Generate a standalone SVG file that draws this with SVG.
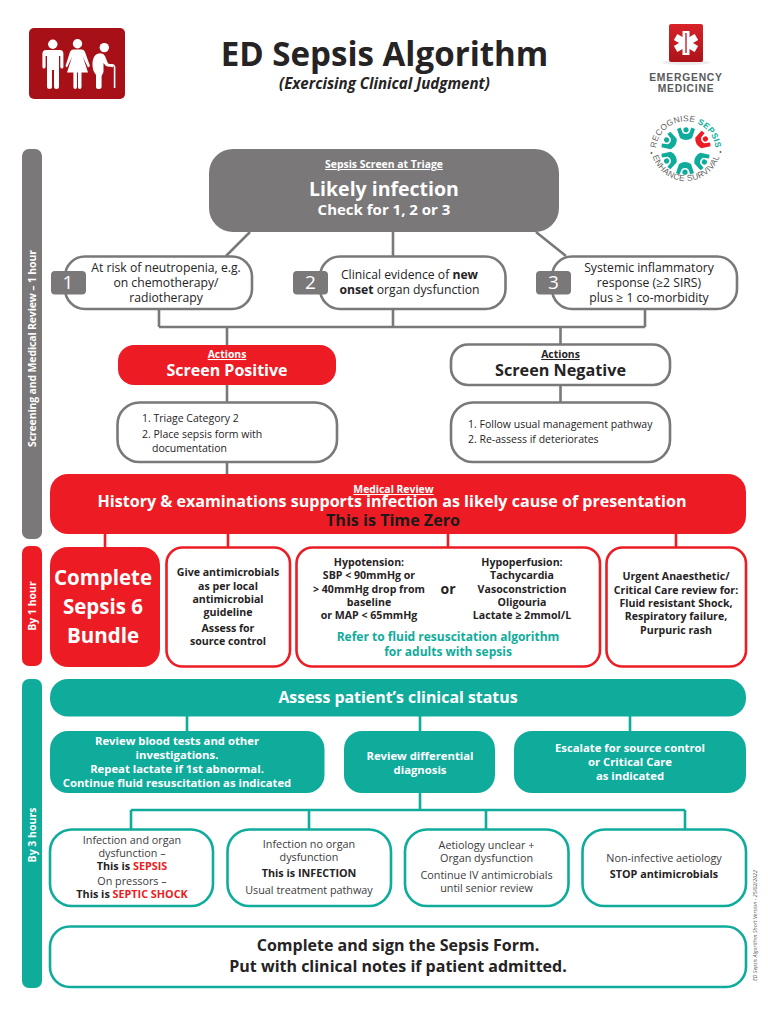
<svg xmlns="http://www.w3.org/2000/svg" width="768" height="1024" viewBox="0 0 768 1024">
<style>
text{font-family:"Open Sans","Noto Sans",sans-serif;fill:#262324}
.m{text-anchor:middle}
.b{font-weight:700}
.w{fill:#fff}
.u{text-decoration:underline}
.t12{font-size:12.2px}
.t11{font-size:10.5px}
.bb{font-size:10.6px;font-weight:700;text-anchor:middle}
.tb{font-size:11.3px;font-weight:700;text-anchor:middle;fill:#fff}
.low{font-size:10.8px;text-anchor:middle;fill:#3c3a3b}
.lowb{font-size:10.8px;font-weight:700;text-anchor:middle}
.red{fill:#ed1c24;font-weight:700}
.g{fill:#7a7879}
.gbox{fill:#fff;stroke:#7a7879;stroke-width:2.6}
.r{fill:#ed1c24}
.rbox{fill:#fff;stroke:#ed1c24;stroke-width:2.6}
.te{fill:#10ac9b}
.tbox{fill:#fff;stroke:#10ac9b;stroke-width:2.6}
.cg{fill:none;stroke:#7a7879;stroke-width:2.6}
.cr{fill:none;stroke:#ed1c24;stroke-width:2.6}
.ct{fill:none;stroke:#10ac9b;stroke-width:2.6}
.num{font-size:19px;fill:#fff;text-anchor:middle}
.lg{font-size:8.4px;font-family:"Liberation Sans",sans-serif;fill:#5f5f60;letter-spacing:.3px}
.em{font-family:"Liberation Sans",sans-serif;font-size:10.3px;font-weight:700;letter-spacing:.8px;fill:#58595b;text-anchor:middle}
</style>
<defs>
<path id="arcTop" d="M656.500,158 A30,30 0 1 1 715,158"/>
<path id="arcBot" d="M651,146 A35,35 0 0 0 721,146"/>
<linearGradient id="rg" x1="0" y1="0" x2="0" y2="1"><stop offset="0" stop-color="#d8232a"/><stop offset="1" stop-color="#ab1319"/></linearGradient>
<g id="fig"><path d="M-9,-7 L-5.500,-8.500 L-3.200,-3 Q0,-.8 3.200,-3 L5.500,-8.500 L9,-7 L6,2 Q0,6 -6,2 Z"/><circle cy="-6.200" r="2.600"/></g>
</defs>
<rect width="768" height="1024" fill="#fff"/>

<g id="icon-people">
<rect x="29" y="28" width="96" height="71" rx="5" fill="#a61016"/>
<g fill="#fff">
<circle cx="52.800" cy="44.300" r="4.700"/>
<path d="M46,50 H60 Q63.400,50 63.400,54 V67 Q63.400,68.500 62,68.500 Q60.600,68.500 60.300,67 V56 H59 V87 Q59,89 56.500,89 Q54,89 54,87 V70 H52 V87 Q52,89 49.500,89 Q47,89 47,87 V56 H45.600 V67 Q45.300,68.500 44,68.500 Q42.400,68.500 42.400,67 V54 Q42.400,50 46,50Z"/>
<circle cx="77.500" cy="43.800" r="4.700"/>
<path d="M73,49.500 H82 Q84,49.500 85,52 L90,66 L88,67.500 L83,57 L88,72.500 H81.500 V87 Q81.500,89 79.800,89 Q78,89 78,87 V72.500 H77 V87 Q77,89 75.200,89 Q73.400,89 73.400,87 V72.500 H67 L72,57 L67,67.500 L65.500,66 L70,52 Q71,49.500 73,49.500Z"/>
<circle cx="104.300" cy="47.600" r="4.700"/>
<path d="M97,54 Q103,52 105,56 L108,63.500 L113,65 V67.300 L106,66 L103.500,63 V72 L101.600,76 V87 Q101.600,89 99,89 Q96,89 96,87 V75 Q92,70 92.500,63 Q93,56 97,54Z"/>
<path d="M107.500,66 Q113.500,63 114.600,67 V88" fill="none" stroke="#fff" stroke-width="1.600"/>
</g>
</g>

<g id="title">
<text x="384.500" y="66" class="m b" font-size="33.100">ED Sepsis Algorithm</text>
<text x="384.500" y="89" class="m b" font-size="15.100" font-style="italic">(Exercising Clinical Judgment)</text>
</g>

<g id="logo-emergency">
<ellipse cx="686" cy="62.500" rx="24" ry="2.500" fill="#ececec"/>
<rect x="669" y="24" width="34" height="38" rx="2" fill="url(#rg)"/>
<g fill="#fff"><rect x="682.500" y="31" width="7" height="24"/><rect x="682.500" y="31" width="7" height="24" transform="rotate(60 686 43)"/><rect x="682.500" y="31" width="7" height="24" transform="rotate(120 686 43)"/></g>
<path d="M686,33 V53" stroke="#c7202a" stroke-width="1.400"/>
<text x="686" y="80.700" class="em">EMERGENCY</text>
<text x="686" y="91.500" class="em">MEDICINE</text>
</g>

<g id="logo-sepsis">
<text class="lg"><textPath href="#arcTop" startOffset="50%" text-anchor="middle">RECOGNISE <tspan style="fill:#10ac9b;font-weight:700">SEPSIS</tspan></textPath></text>
<text class="lg"><textPath href="#arcBot" startOffset="50%" text-anchor="middle">ENHANCE SURVIVAL</textPath></text>
<circle cx="651.500" cy="153" r="1" fill="#5f5f60"/><circle cx="720.500" cy="152" r="1" fill="#5f5f60"/>
<g fill="#10ac9b">
<use href="#fig" transform="translate(686,136)"/>
<use href="#fig" transform="translate(672,143) rotate(-60)"/>
<use href="#fig" transform="translate(672,158) rotate(-120)"/>
<use href="#fig" transform="translate(685,166) rotate(180)"/>
<use href="#fig" transform="translate(699,159) rotate(120)"/>
<use href="#fig" transform="translate(700,142) rotate(60)" fill="#ed1c24"/>
</g>
</g>

<g id="connectors">
<path class="cg" d="M250,232 L226,256 M393,232 V256 M536,232 L566,256 M159,309 V327 M393,309 V327 M645,309 V327 M159,327 H645 M227,327 V345 M560.500,327 V344 M227,385 V402 M560.500,385 V402 M227,462 V474"/>
<path class="cr" d="M105,534 V547 M228,534 V547 M448,534 V547 M676,534 V547"/>
<path class="ct" d="M187,716 V731 M420,716 V731 M630,716 V731 M420,793 V810 M131,810 H685 M131,810 V829 M309,810 V829 M486,810 V829 M685,810 V829"/>
</g>

<g id="bar-screening"><rect x="22" y="149" width="20" height="390" rx="7" class="g"/>
<text transform="translate(36,447) rotate(-90)" class="b w" font-size="10.500" textLength="197">Screening and Medical Review – 1 hour</text></g>
<g id="bar-1hour"><rect x="22" y="546" width="20" height="120" rx="7" class="r"/>
<text transform="translate(36,606) rotate(-90)" class="m b w" font-size="10.500">By 1 hour</text></g>
<g id="bar-3hours"><rect x="22" y="679" width="20" height="309" rx="7" class="te"/>
<text transform="translate(36,835) rotate(-90)" class="m b w" font-size="10.500">By 3 hours</text></g>

<g id="node-screen">
<rect x="209" y="149" width="350" height="83" rx="24" class="g"/>
<text x="384" y="168" class="m b w u" font-size="10.400">Sepsis Screen at Triage</text>
<text x="384" y="196" class="m b w" font-size="19.500">Likely infection</text>
<text x="384" y="215" class="m b w" font-size="15">Check for 1, 2 or 3</text>
</g>
<g id="node-1">
<rect x="65" y="256.500" width="187" height="52.500" rx="20" class="gbox"/>
<rect x="51" y="271" width="35" height="23.500" rx="4" class="g"/>
<text x="68" y="289" class="num">1</text>
<text x="166" y="272" class="m t12">At risk of neutropenia, e.g.</text>
<text x="166" y="287" class="m t12">on chemotherapy/</text>
<text x="166" y="302" class="m t12">radiotherapy</text>
</g>
<g id="node-2">
<rect x="320" y="256.500" width="185.500" height="52.500" rx="20" class="gbox"/>
<rect x="293" y="271" width="35" height="23.500" rx="4" class="g"/>
<text x="310.500" y="289" class="num">2</text>
<text x="409.500" y="279" class="m t12">Clinical evidence of <tspan class="b">new</tspan></text>
<text x="409.500" y="294" class="m t12"><tspan class="b">onset</tspan> organ dysfunction</text>
</g>
<g id="node-3">
<rect x="552" y="256.500" width="185" height="52.500" rx="20" class="gbox"/>
<rect x="536" y="271" width="35" height="23.500" rx="4" class="g"/>
<text x="553.500" y="289" class="num">3</text>
<text x="649" y="272" class="m t12">Systemic inflammatory</text>
<text x="649" y="287" class="m t12">response (≥2 SIRS)</text>
<text x="649" y="302" class="m t12">plus ≥ 1 co-morbidity</text>
</g>
<g id="node-positive">
<rect x="118" y="345" width="218" height="40" rx="16" class="r"/>
<text x="227" y="358" class="m b w u" font-size="10.400">Actions</text>
<text x="227" y="376" class="m b w" font-size="16">Screen Positive</text>
</g>
<g id="node-negative">
<rect x="451" y="344.500" width="219" height="40.500" rx="17" class="gbox"/>
<text x="560.500" y="358" class="m b u" font-size="10.400">Actions</text>
<text x="560.500" y="376" class="m b" font-size="16.200">Screen Negative</text>
</g>
<g id="node-positive-list">
<rect x="117.500" y="402.500" width="219.500" height="59.500" rx="22" class="gbox"/>
<text x="142" y="422" class="t11">1. Triage Category 2</text>
<text x="142" y="438" class="t11">2. Place sepsis form with</text>
<text x="152" y="452" class="t11">documentation</text>
</g>
<g id="node-negative-list">
<rect x="451" y="402.500" width="219" height="59.500" rx="22" class="gbox"/>
<text x="468" y="428" class="t11">1. Follow usual management pathway</text>
<text x="468" y="443" class="t11">2. Re-assess if deteriorates</text>
</g>
<g id="node-review">
<rect x="50" y="474" width="696" height="60" rx="18" class="r"/>
<text x="393.500" y="493" class="m b w u" font-size="10.400">Medical Review</text>
<text x="392" y="507" class="m b w" font-size="16.100">History &amp; examinations supports infection as likely cause of presentation</text>
<text x="393" y="526" class="m b" font-size="16.100" style="fill:#1c1a1b">This is Time Zero</text>
</g>
<g id="node-bundle">
<rect x="50" y="547" width="110" height="120" rx="18" class="r"/>
<text x="103" y="585" class="m b w" font-size="20.500">Complete</text>
<text x="103" y="613.500" class="m b w" font-size="20.500">Sepsis 6</text>
<text x="103" y="643" class="m b w" font-size="20.500">Bundle</text>
</g>
<g id="node-antimicrobials">
<rect x="166.500" y="547.500" width="123.500" height="119" rx="16" class="rbox"/>
<text x="228" y="576" class="bb">Give antimicrobials</text>
<text x="228" y="589.500" class="bb">as per local</text>
<text x="228" y="603" class="bb">antimicrobial</text>
<text x="228" y="616" class="bb">guideline</text>
<text x="228" y="632" class="bb">Assess for</text>
<text x="228" y="645" class="bb">source control</text>
</g>
<g id="node-hypo">
<rect x="296.500" y="547.500" width="303.500" height="119" rx="16" class="rbox"/>
<text x="369" y="566" class="bb">Hypotension:</text>
<text x="369" y="579" class="bb">SBP &lt; 90mmHg or</text>
<text x="369" y="593" class="bb">&gt; 40mmHg drop from</text>
<text x="369" y="606" class="bb">baseline</text>
<text x="369" y="619" class="bb">or MAP &lt; 65mmHg</text>
<text x="448" y="594" class="m b" font-size="14">or</text>
<text x="522" y="566" class="bb">Hypoperfusion:</text>
<text x="522" y="579" class="bb">Tachycardia</text>
<text x="522" y="593" class="bb">Vasoconstriction</text>
<text x="522" y="606" class="bb">Oligouria</text>
<text x="522" y="619" class="bb">Lactate ≥ 2mmol/L</text>
<text x="448" y="641" class="m b" font-size="12" style="fill:#10ac9b">Refer to fluid resuscitation algorithm</text>
<text x="448" y="656" class="m b" font-size="12" style="fill:#10ac9b">for adults with sepsis</text>
</g>
<g id="node-urgent">
<rect x="606.500" y="547.500" width="139.500" height="119" rx="16" class="rbox"/>
<text x="676" y="580" class="bb">Urgent Anaesthetic/</text>
<text x="676" y="594" class="bb">Critical Care review for:</text>
<text x="676" y="607" class="bb">Fluid resistant Shock,</text>
<text x="676" y="620" class="bb">Respiratory failure,</text>
<text x="676" y="634" class="bb">Purpuric rash</text>
</g>
<g id="node-assess">
<rect x="50" y="679" width="696" height="37.500" rx="18" class="te"/>
<text x="398" y="703" class="m b w" font-size="15.900">Assess patient’s clinical status</text>
</g>
<g id="node-bloods">
<rect x="50" y="731" width="274.500" height="62" rx="18" class="te"/>
<text x="177" y="745" class="tb">Review blood tests and other</text>
<text x="177" y="759" class="tb">investigations.</text>
<text x="177" y="772.500" class="tb">Repeat lactate if 1st abnormal.</text>
<text x="177" y="786.500" class="tb">Continue fluid resuscitation as indicated</text>
</g>
<g id="node-differential">
<rect x="344" y="731" width="151" height="62" rx="18" class="te"/>
<text x="420" y="760" class="tb">Review differential</text>
<text x="420" y="774" class="tb">diagnosis</text>
</g>
<g id="node-escalate">
<rect x="514" y="731" width="232" height="62" rx="18" class="te"/>
<text x="630" y="752" class="tb">Escalate for source control</text>
<text x="630" y="766" class="tb">or Critical Care</text>
<text x="630" y="780" class="tb">as indicated</text>
</g>
<g id="node-sepsis">
<rect x="50" y="829.500" width="163" height="76.500" rx="22" class="tbox"/>
<text x="132" y="844" class="low">Infection and organ</text>
<text x="132" y="857" class="low">dysfunction –</text>
<text x="132" y="870" class="lowb">This is <tspan class="red">SEPSIS</tspan></text>
<text x="132" y="885" class="low">On pressors –</text>
<text x="132" y="897.500" class="lowb">This is <tspan class="red">SEPTIC SHOCK</tspan></text>
</g>
<g id="node-infection">
<rect x="227.500" y="829.500" width="163.500" height="76.500" rx="22" class="tbox"/>
<text x="309" y="848" class="low">Infection no organ</text>
<text x="309" y="861" class="low">dysfunction</text>
<text x="309" y="877" class="lowb">This is INFECTION</text>
<text x="309" y="894" class="low">Usual treatment pathway</text>
</g>
<g id="node-unclear">
<rect x="405" y="829.500" width="163.500" height="76.500" rx="22" class="tbox"/>
<text x="486.500" y="849" class="low">Aetiology unclear +</text>
<text x="486.500" y="862" class="low">Organ dysfunction</text>
<text x="486.500" y="879" class="low">Continue IV antimicrobials</text>
<text x="486.500" y="892" class="low">until senior review</text>
</g>
<g id="node-noninfective">
<rect x="582.500" y="829.500" width="163.500" height="76.500" rx="22" class="tbox"/>
<text x="664" y="862" class="low">Non-infective aetiology</text>
<text x="664" y="878" class="lowb">STOP antimicrobials</text>
</g>
<g id="node-form">
<rect x="50" y="926.500" width="696" height="60.500" rx="20" class="tbox"/>
<text x="398" y="950.500" class="m b" font-size="16">Complete and sign the Sepsis Form.</text>
<text x="398" y="971.500" class="m b" font-size="16">Put with clinical notes if patient admitted.</text>
</g>
<text transform="translate(757,981) rotate(-90)" font-size="6" textLength="111" lengthAdjust="spacingAndGlyphs" style="fill:#555;font-style:italic">ED Sepsis Algorithm Short Version - 25/02/2022</text>
</svg>
